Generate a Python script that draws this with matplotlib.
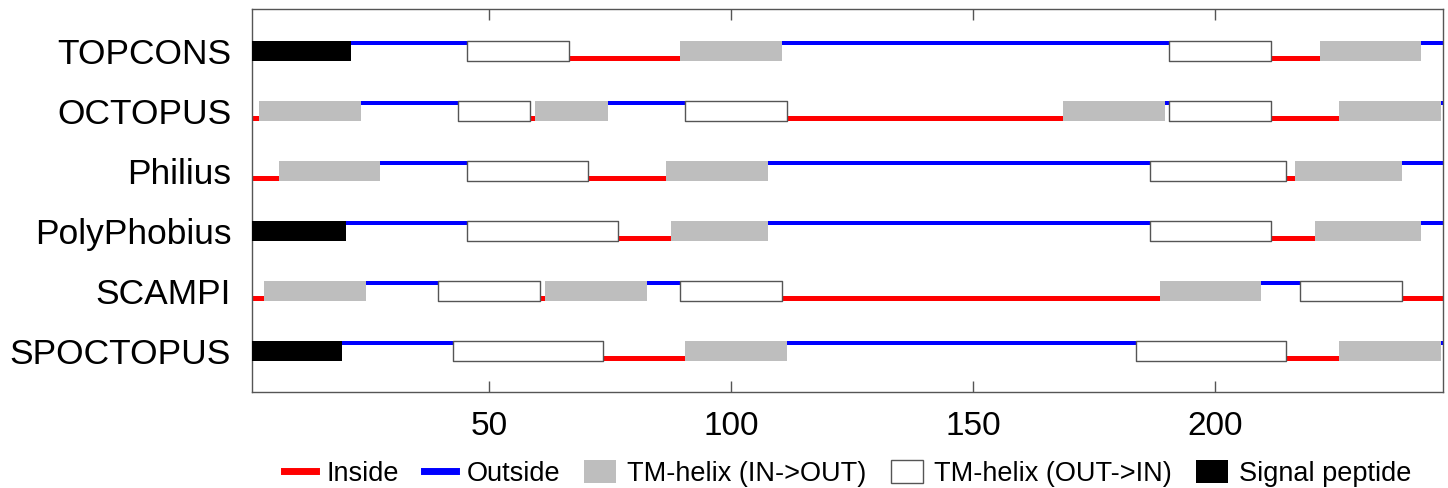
import matplotlib
matplotlib.use("Agg")
import matplotlib.pyplot as plt
from matplotlib.lines import Line2D
from matplotlib.patches import Patch

plt.rcParams['font.family'] = ['Liberation Sans', 'DejaVu Sans']

# topology per predictor: (kind, first residue, last residue)
# i = inside, o = outside, M = TM helix in->out, O = TM helix out->in, S = signal peptide
topcons = [("S", 1, 21), ("o", 22, 45), ("O", 46, 66), ("i", 67, 89), ("M", 90, 110),
           ("o", 111, 190), ("O", 191, 211), ("i", 212, 221), ("M", 222, 242), ("o", 243, 247)]
octopus = [("i", 1, 2), ("M", 3, 23), ("o", 24, 43), ("O", 44, 58), ("i", 59, 59),
           ("M", 60, 74), ("o", 75, 90), ("O", 91, 111), ("i", 112, 168), ("M", 169, 189),
           ("o", 190, 190), ("O", 191, 211), ("i", 212, 225), ("M", 226, 246), ("o", 247, 247)]
philius = [("i", 1, 6), ("M", 7, 27), ("o", 28, 45), ("O", 46, 70), ("i", 71, 86),
           ("M", 87, 107), ("o", 108, 186), ("O", 187, 214), ("i", 215, 216), ("M", 217, 238),
           ("o", 239, 247)]
polyphobius = [("S", 1, 20), ("o", 21, 45), ("O", 46, 76), ("i", 77, 87), ("M", 88, 107),
               ("o", 108, 186), ("O", 187, 211), ("i", 212, 220), ("M", 221, 242), ("o", 243, 247)]
scampi = [("i", 1, 3), ("M", 4, 24), ("o", 25, 39), ("O", 40, 60), ("i", 61, 61),
          ("M", 62, 82), ("o", 83, 89), ("O", 90, 110), ("i", 111, 188), ("M", 189, 209),
          ("o", 210, 217), ("O", 218, 238), ("i", 239, 247)]
spoctopus = [("S", 1, 19), ("o", 20, 42), ("O", 43, 73), ("i", 74, 90), ("M", 91, 111),
             ("o", 112, 183), ("O", 184, 214), ("i", 215, 225), ("M", 226, 246), ("o", 247, 247)]

methods = ["TOPCONS", "OCTOPUS", "Philius", "PolyPhobius", "SCAMPI", "SPOCTOPUS"]
topologies = [topcons, octopus, philius, polyphobius, scampi, spoctopus]
seq_len = 247
xticks = [50, 100, 150, 200]

legend_labels = ["Inside", "Outside", "TM-helix (IN->OUT)", "TM-helix (OUT->IN)", "Signal peptide"]

grey = "#bebebe"
edge = "#555555"
half = 0.167   # half box height
lw_band = 0.075  # thickness of in/out line

fig = plt.figure(figsize=(14.48, 4.88), dpi=100)
ax = fig.add_axes([252 / 1448, 1 - 392 / 488, (1443 - 252) / 1448, (392 - 9) / 488])

for row, topo in enumerate(topologies):
    for kind, start, end in topo:
        x0, w = start - 0.5, end - start + 1
        if kind == "o":
            ax.broken_barh([(x0, w)], (row - half, lw_band), facecolors="blue", zorder=2)
        elif kind == "i":
            ax.broken_barh([(x0, w)], (row + half - lw_band, lw_band), facecolors="red", zorder=2)
        elif kind == "M":
            ax.broken_barh([(x0, w)], (row - half, 2 * half), facecolors=grey, zorder=3)
        elif kind == "O":
            ax.broken_barh([(x0, w)], (row - half, 2 * half), facecolors="white",
                           edgecolors=edge, linewidth=1.0, zorder=3)
        elif kind == "S":
            ax.broken_barh([(x0, w)], (row - half, 2 * half), facecolors="black", zorder=3)

ax.set_xlim(1, seq_len)
ax.set_ylim(len(methods) - 1 + 0.69, -0.7)
ax.set_xticks(xticks)
ax.set_yticks(range(len(methods)))
ax.set_yticklabels(methods)
ax.tick_params(axis="x", direction="in", length=8, top=True, labelsize=24, pad=14,
               color=edge, width=1)
ax.tick_params(axis="y", length=0, labelsize=25.5, pad=15)
for sp in ax.spines.values():
    sp.set_color(edge)
    sp.set_linewidth(1)

handles = [Line2D([], [], color="red", lw=5),
           Line2D([], [], color="blue", lw=5),
           Patch(facecolor=grey, edgecolor="none"),
           Patch(facecolor="white", edgecolor=edge, linewidth=1),
           Patch(facecolor="black", edgecolor="none")]
ax.legend(handles, legend_labels, loc="center", bbox_to_anchor=(0.5, -0.213), ncol=5,
          frameon=False, fontsize=19.5, handlelength=1.18, handleheight=0.89,
          handletextpad=0.4, columnspacing=0.9, borderaxespad=0, borderpad=0)

fig.savefig("out.png", dpi=100)
